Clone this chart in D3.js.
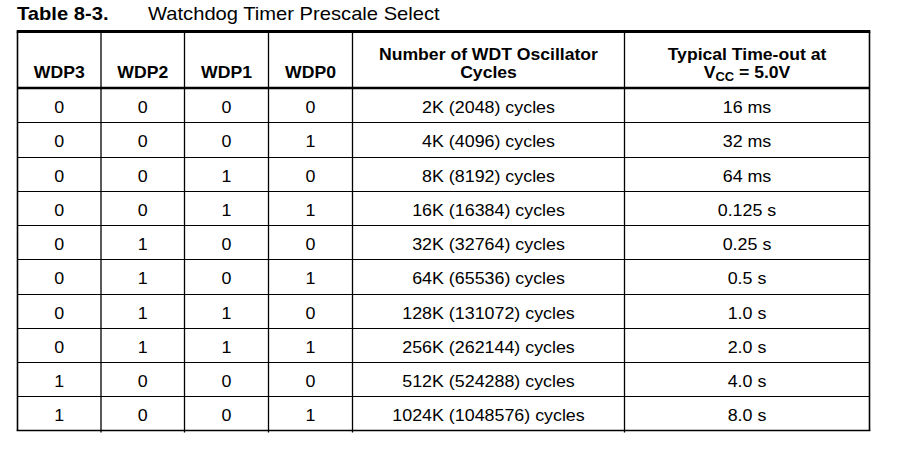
<!DOCTYPE html>
<html><head><meta charset="utf-8">
<script src="https://cdn.jsdelivr.net/npm/d3@7"></script>
<style>
html,body{margin:0;padding:0;background:#fff;}
svg{display:block;font-family:"Liberation Sans",Arial,Helvetica,sans-serif;}
</style></head>
<body><svg id="c" width="899" height="454"></svg>
<script>
const tableTitle = "Table 8-3.";
const tableCaption = "Watchdog Timer Prescale Select";
const headers = [["WDP3"],["WDP2"],["WDP1"],["WDP0"],["Number of WDT Oscillator","Cycles"],["Typical Time-out at","VCC = 5.0V"]];
const wdp3 = [0,0,0,0,0,0,0,0,1,1];
const wdp2 = [0,0,0,0,1,1,1,1,0,0];
const wdp1 = [0,0,1,1,0,0,1,1,0,0];
const wdp0 = [0,1,0,1,0,1,0,1,0,1];
const cycles = ["2K (2048) cycles","4K (4096) cycles","8K (8192) cycles","16K (16384) cycles","32K (32764) cycles","64K (65536) cycles","128K (131072) cycles","256K (262144) cycles","512K (524288) cycles","1024K (1048576) cycles"];
const timeouts = ["16 ms","32 ms","64 ms","0.125 s","0.25 s","0.5 s","1.0 s","2.0 s","4.0 s","8.0 s"];

// layout
const colEdges = [17.5, 101, 184.5, 268.5, 352.5, 624.5, 869.5];
const tableTop = 31.5, headBottom = 88, tableBottom = 430.5;

const svg = d3.select("#c");
const rows = d3.range(wdp3.length).map(i => [wdp3[i], wdp2[i], wdp1[i], wdp0[i], cycles[i], timeouts[i]]);
const y = d3.scaleBand().domain(d3.range(rows.length)).range([headBottom, tableBottom]);
const colMid = i => (colEdges[i] + colEdges[i+1]) / 2;

function stretchedText(x, yy, sx) {
  return svg.append("g").attr("transform", `translate(${x},${yy}) scale(${sx},1)`).append("text").attr("x",0).attr("y",0);
}

// title
stretchedText(17, 20, 1.12).attr("font-size",18).attr("font-weight","bold").text(tableTitle);
stretchedText(148, 20, 1.12).attr("font-size",18).text(tableCaption);

// row separators
svg.selectAll("line.row").data(d3.range(1, rows.length)).join("line")
  .attr("x1",colEdges[0]).attr("x2",colEdges[6])
  .attr("y1",d=>Math.round(y(d))+0.5).attr("y2",d=>Math.round(y(d))+0.5)
  .attr("stroke","#000").attr("stroke-width",1.2);

// vertical lines
svg.selectAll("line.col").data(colEdges).join("line")
  .attr("x1",d=>d).attr("x2",d=>d)
  .attr("y1",tableTop).attr("y2",(d,i)=> (i===0||i===6)?tableBottom+0.5:tableBottom+2)
  .attr("stroke","#000").attr("stroke-width",(d,i)=>(i===0||i===6)?1.6:1.3);

// horizontal thick lines
svg.append("line").attr("x1",colEdges[0]-0.8).attr("x2",colEdges[6]+0.8).attr("y1",tableTop).attr("y2",tableTop).attr("stroke","#000").attr("stroke-width",3);
svg.append("line").attr("x1",colEdges[0]).attr("x2",colEdges[6]).attr("y1",headBottom).attr("y2",headBottom).attr("stroke","#000").attr("stroke-width",2.6);
svg.append("line").attr("x1",colEdges[0]-0.8).attr("x2",colEdges[6]+0.8).attr("y1",tableBottom).attr("y2",tableBottom).attr("stroke","#000").attr("stroke-width",1.6);

// headers
headers.forEach((h,i)=>{
  h.forEach((line,j)=>{
    const t = stretchedText(colMid(i), 77.5 - (h.length-1-j)*18, 1.08)
      .attr("text-anchor","middle").attr("font-size",16.3).attr("font-weight","bold");
    if (line.startsWith("VCC")) {
      t.append("tspan").text("V");
      t.append("tspan").attr("font-size",12).attr("dy",3.5).text("CC");
      t.append("tspan").attr("dy",-3.5).text(" = 5.0V");
    } else t.text(line);
  });
});

// body
rows.forEach((r,ri)=>{
  r.forEach((v,ci)=>{
    stretchedText(colMid(ci), y(ri)+y.bandwidth()/2+8, 1.05)
      .attr("text-anchor","middle").attr("font-size",17).text(v);
  });
});
</script></body></html>
